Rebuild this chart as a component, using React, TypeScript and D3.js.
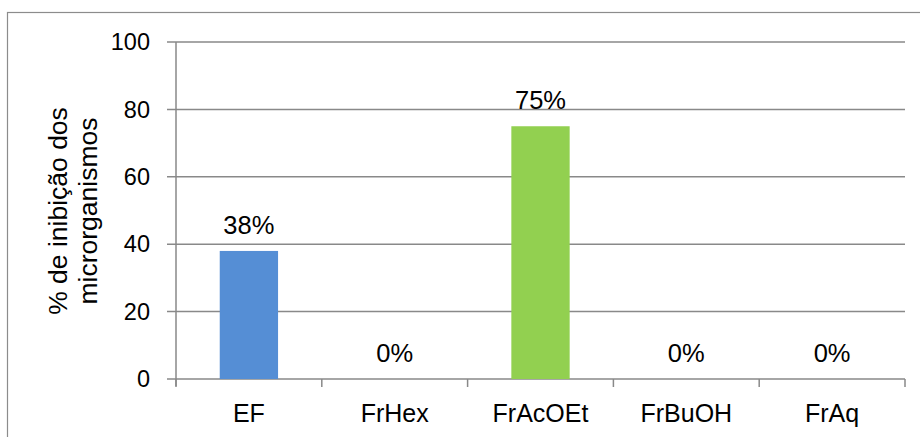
import React from "react";
import * as d3 from "d3";

const categories = ["EF", "FrHex", "FrAcOEt", "FrBuOH", "FrAq"];
const values = [38, 0, 75, 0, 0];
const barColors = ["#558ED5", "#558ED5", "#92D050", "#558ED5", "#558ED5"];
const yTicks = [0, 20, 40, 60, 80, 100];
const yTitle = ["% de inibição dos", "microrganismos"];

const W = 920;
const H = 437;
const plot = { left: 176, right: 905, top: 42, bottom: 379 };
const font = "'Liberation Sans', Arial, sans-serif";
const gridColor = "#898989";

export default function App() {
  const x = d3
    .scaleBand<string>()
    .domain(categories)
    .range([plot.left, plot.right])
    .paddingInner(0.6)
    .paddingOuter(0.3);
  const step = (plot.right - plot.left) / categories.length;
  const y = d3.scaleLinear().domain([0, 100]).range([plot.bottom, plot.top]);

  return (
    <svg
      width={W}
      height={H}
      style={{ position: "absolute", left: 0, top: 0, background: "#fff" }}
    >
      <rect x={7.5} y={12.5} width={1000} height={1000} fill="#fff" stroke="#8c8c8c" strokeWidth={1.2} />

      {/* gridlines and y ticks */}
      {yTicks.map((t) => (
        <g key={t}>
          <line
            x1={plot.left - 9}
            x2={plot.right}
            y1={y(t)}
            y2={y(t)}
            stroke={gridColor}
            strokeWidth={1.5}
          />
          <text
            x={150}
            y={y(t)}
            dy="0.35em"
            textAnchor="end"
            fontFamily={font}
            fontSize={23.5}
            fill="#000"
          >
            {t}
          </text>
        </g>
      ))}

      {/* y axis line */}
      <line x1={plot.left} x2={plot.left} y1={plot.top} y2={plot.bottom + 7} stroke={gridColor} strokeWidth={1.5} />

      {/* category ticks */}
      {d3.range(categories.length + 1).map((i) => (
        <line
          key={i}
          x1={plot.left + i * step}
          x2={plot.left + i * step}
          y1={plot.bottom}
          y2={plot.bottom + 8}
          stroke={gridColor}
          strokeWidth={1.5}
        />
      ))}

      {/* bars */}
      {categories.map((c, i) => (
        <rect
          key={c}
          x={x(c)}
          y={y(values[i])}
          width={x.bandwidth()}
          height={plot.bottom - y(values[i])}
          fill={barColors[i]}
        />
      ))}

      {/* value labels */}
      {categories.map((c, i) => (
        <text
          key={c}
          x={(x(c) as number) + x.bandwidth() / 2}
          y={y(values[i]) - 17}
          textAnchor="middle"
          fontFamily={font}
          fontSize={25.5}
          fill="#000"
        >
          {values[i]}%
        </text>
      ))}

      {/* category labels */}
      {categories.map((c) => (
        <text
          key={c}
          x={(x(c) as number) + x.bandwidth() / 2}
          y={422}
          textAnchor="middle"
          fontFamily={font}
          fontSize={25}
          fill="#000"
        >
          {c}
        </text>
      ))}

      {/* y axis title */}
      <g transform={`translate(73, 211) rotate(-90)`}>
        {yTitle.map((line, i) => (
          <text
            key={i}
            x={0}
            y={(i - 0.5) * 30}
            dy="0.35em"
            textAnchor="middle"
            fontFamily={font}
            fontSize={26.5}
            fill="#000"
          >
            {line}
          </text>
        ))}
      </g>
    </svg>
  );
}
